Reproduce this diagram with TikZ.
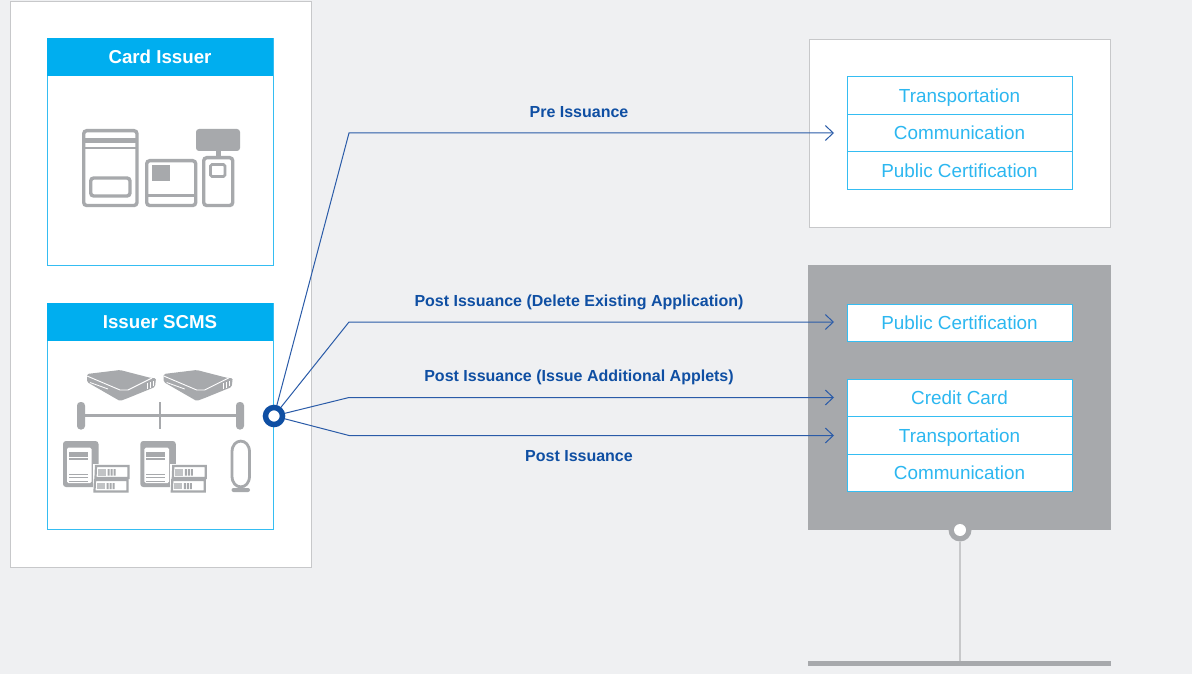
\documentclass[tikz,border=0pt]{standalone}
\usepackage{fontspec}
\setmainfont{Liberation Sans}
\usetikzlibrary{arrows.meta}
\definecolor{bgc}{HTML}{EFF0F2}
\definecolor{cy}{HTML}{00AEEF}
\definecolor{cyl}{HTML}{35BDF2}
\definecolor{cyt}{HTML}{2CB7F0}
\definecolor{gr}{HTML}{A7A9AC}
\definecolor{lgr}{HTML}{C7C8CA}
\definecolor{bl}{HTML}{0F4FA3}
\definecolor{lnk}{HTML}{2A5BA8}
\tikzset{
 panel/.style={draw=lgr,fill=white,line width=.9pt},
 card/.style={draw=cyl,fill=white,line width=.9pt},
 head/.style={fill=cy,text=white,font=\bfseries\fontsize{18.7}{20}\selectfont,inner sep=0pt,text height=13.5pt,text depth=0pt},
 rowbox/.style={draw=cyl,fill=white,line width=.9pt,text=cyt,font=\fontsize{18.9}{20}\selectfont,minimum width=225pt,inner sep=0pt,text height=13.5pt,text depth=0pt},
 lbl/.style={text=bl,font=\bfseries\fontsize{16}{18}\selectfont,inner sep=0pt,text height=11.5pt,text depth=1pt},
 link/.style={draw=lnk,line width=1pt},
 arr/.style={link,-{Straight Barb[length=8pt,width=15pt,line width=1pt]}},
 ic/.style={draw=gr,line width=3.4pt,rounded corners=3pt,fill=none},
 wl/.style={draw=white,line width=.9pt,line join=round},
 pics/disk/.style={code={
  \fill[gr,rounded corners=1.5pt] (87,374) -- (120,370) -- (151,378) -- (156,378) -- (155,387) -- (128,398) -- (120,401) -- (87,382) -- cycle;
  \draw[wl] (87,376) -- (120,390) -- (128,390) -- (152,378);
  \draw[wl,line width=.8pt] (90,382.5) -- (108,389);
  \draw[white,line width=.7pt] (147,383)--(147,389) (150,382)--(150,388) (153,381)--(153,386);
 }},
 pics/srv/.style={code={
  \fill[gr,rounded corners=3pt] (63,441) rectangle (98.5,487);
  \fill[white,rounded corners=1.5pt] (67,447.7) rectangle (91.7,483);
  \fill[gr] (69,452) rectangle (88,456.7);
  \fill[gr] (69,458) rectangle (88,459.5);
  \fill[gr] (69,473.5) rectangle (88,474.8);
  \fill[gr] (69,477) rectangle (88,478.3);
  \fill[gr] (69,481) rectangle (88,482.3);
  \fill[white] (93,463.5) rectangle (100,493);
  \draw[gr,line width=2.2pt,fill=white] (96,466) -- (128.5,466) -- (128.5,478) -- (95.5,478) -- cycle;
  \draw[gr,line width=2.2pt,fill=white] (95,480) -- (127.5,480) -- (127.5,491.5) -- (94.5,491.5) -- cycle;
  \fill[gr!70] (98,469) rectangle (105.5,475.5);
  \fill[gr!70] (97,483) rectangle (104.5,489);
  \fill[gr] (107.5,469) rectangle (109.5,475.5) (110.5,469) rectangle (112.5,475.5) (113.5,469) rectangle (115.5,475.5);
  \fill[gr] (106.5,483) rectangle (108.5,489) (109.5,483) rectangle (111.5,489) (112.5,483) rectangle (114.5,489);
 }}
}
\begin{document}
\begin{tikzpicture}[x=1pt,y=-1pt]
\useasboundingbox (0,0) rectangle (1192,674);
\fill[bgc] (0,0) rectangle (1192,674);
% left panel
\node[panel,minimum width=301pt,minimum height=566pt,inner sep=0pt] (leftpanel) at (160.5,284) {};
\node[card,minimum width=226pt,minimum height=227pt,inner sep=0pt] (issuerbox) at (160,151.5) {};
\node[head,minimum width=226.8pt,minimum height=38pt] (issuerhead) at (160,57) {Card Issuer};
\node[card,minimum width=226pt,minimum height=226pt,inner sep=0pt] (scmsbox) at (160,416) {};
\node[head,minimum width=226.8pt,minimum height=38pt] (scmshead) at (160,322) {Issuer SCMS};
% card issuer icons
\draw[ic] (83.7,130.7) rectangle (137,205.5);
\fill[gr] (83,138) rectangle (138,143.5);
\fill[gr] (83,147) rectangle (138,149.5);
\draw[ic] (90.7,178) rectangle (130,196);
\draw[ic] (146.7,160.7) rectangle (195.7,205.5);
\fill[gr] (147,194.5) rectangle (196,197);
\fill[gr] (152,165) rectangle (170,181);
\draw[ic] (203.7,157.7) rectangle (232.7,205.5);
\draw[ic,rounded corners=1.5pt,line width=2.8pt] (210.5,164.5) rectangle (225,176.5);
\fill[gr,rounded corners=3pt] (196,129) rectangle (240,151);
\fill[gr] (216,151) rectangle (221,157);
% scms icons
\pic {disk};
\pic[xshift=76.7pt] {disk};
\draw[gr,line width=2.8pt] (81,415.7) -- (240,415.7);
\fill[gr,rounded corners=3.5pt] (77,402) rectangle (85,429.5);
\fill[gr,rounded corners=3.5pt] (236,402) rectangle (244,429.5);
\draw[gr,line width=1.8pt] (160,402) -- (160,429);
\pic {srv};
\pic[xshift=77.3pt] {srv};
\draw[gr,line width=2.8pt] (232,452) .. controls (232,437.5) and (249.5,437.5) .. (249.5,452) -- (249.5,476) .. controls (249.5,490.5) and (232,490.5) .. (232,476) -- cycle;
\fill[gr,rounded corners=2pt] (231.5,488) rectangle (250,492);
% right top
\node[panel,minimum width=301pt,minimum height=188pt,inner sep=0pt] (toppanel) at (959.5,133.3) {};
\node[rowbox,minimum height=37.5pt] (t1) at (959.5,95.5) {Transportation};
\node[rowbox,minimum height=37.5pt] (t2) at (959.5,133) {Communication};
\node[rowbox,minimum height=37.5pt] (t3) at (959.5,170.5) {Public Certification};
% right gray
\fill[gr] (808,265) rectangle (1111,529.5);
\node[rowbox,minimum height=37pt] (g0) at (959.5,322.5) {Public Certification};
\node[rowbox,minimum height=37.5pt] (g1) at (959.5,398) {Credit Card};
\node[rowbox,minimum height=37.5pt] (g2) at (959.5,435.5) {Transportation};
\node[rowbox,minimum height=37.5pt] (g3) at (959.5,473) {Communication};
% base
\node[circle,fill=gr,minimum size=23pt,inner sep=0pt] (stand) at (960,530) {};
\node[circle,fill=white,minimum size=12pt,inner sep=0pt] (standc) at (960,530) {};
\fill[gr] (808,661) rectangle (1111,666);
\coordinate (baseTop) at (960,661);
\draw[lgr,line width=2pt] (stand.south) -- (baseTop);
% connectors
\coordinate (c1) at (349,133); \coordinate (e1) at (834,133);
\coordinate (c2) at (349,322); \coordinate (e2) at (834,322);
\coordinate (c3) at (349,397.5); \coordinate (e3) at (834,397.5);
\coordinate (c4) at (349,435.5); \coordinate (e4) at (834,435.5);
\coordinate (hubc) at (274,416);
\draw[arr] (hubc) -- (c1) -- (e1);
\draw[arr] (hubc) -- (c2) -- (e2);
\draw[arr] (hubc) -- (c3) -- (e3);
\draw[arr] (hubc) -- (c4) -- (e4);
\node[circle,fill=white,draw=bl,line width=5.5pt,minimum size=17pt,inner sep=0pt] (hub) at (hubc) {};
% labels
\node[lbl] (l1) at (579,112) {Pre Issuance};
\node[lbl] (l2) at (579,301) {Post Issuance (Delete Existing Application)};
\node[lbl] (l3) at (579,376) {Post Issuance (Issue Additional Applets)};
\node[lbl] (l4) at (579,456) {Post Issuance};
\end{tikzpicture}
\end{document}
